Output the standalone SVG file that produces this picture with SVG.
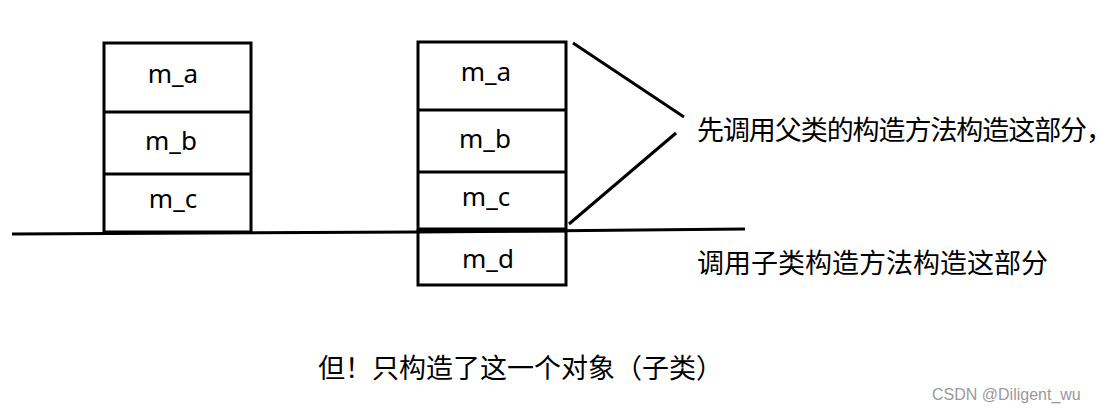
<svg xmlns="http://www.w3.org/2000/svg" width="1118" height="419" viewBox="0 0 1118 419">
<style>
.box{fill:none;stroke:#000;stroke-width:3}
.ln{fill:none;stroke:#000;stroke-width:3}
.lbl{font-family:"Noto Sans","DejaVu Sans",sans-serif;font-size:26px;fill:#000;text-anchor:middle}
.cn{font-family:"Noto Sans CJK SC","Noto Sans",sans-serif;font-size:27px;fill:#000}
.wm{font-family:"Liberation Sans",Arial,sans-serif;font-size:16px;fill:#9a9a9a}
</style>
<rect width="1118" height="419" fill="#fff"/>
<g id="left-stack">
  <rect class="box" x="104" y="43" width="147" height="189"/>
  <line class="ln" x1="104" y1="112" x2="251" y2="112"/>
  <line class="ln" x1="104" y1="174" x2="251" y2="174"/>
  <text class="lbl" x="173" y="83">m_a</text>
  <text class="lbl" x="171" y="150">m_b</text>
  <text class="lbl" x="173" y="208">m_c</text>
</g>
<g id="right-stack">
  <rect class="box" x="418" y="42" width="148" height="187"/>
  <line class="ln" x1="418" y1="110" x2="566" y2="110"/>
  <line class="ln" x1="418" y1="172" x2="566" y2="172"/>
  <rect class="box" x="418" y="231" width="148" height="54"/>
  <text class="lbl" x="486" y="81">m_a</text>
  <text class="lbl" x="485" y="148">m_b</text>
  <text class="lbl" x="486" y="206">m_c</text>
  <text class="lbl" x="488" y="268">m_d</text>
</g>
<g id="connectors">
  <polyline class="ln" points="12,234 418,232 745,229"/>
  <line class="ln" x1="573" y1="43" x2="684" y2="117"/>
  <line class="ln" x1="569" y1="224" x2="676" y2="133"/>
</g>
<g id="labels">
  <text class="cn" x="697" y="140" textLength="416" lengthAdjust="spacing">先调用父类的构造方法构造这部分，</text>
  <text class="cn" x="697" y="273">调用子类构造方法构造这部分</text>
  <text class="cn" x="318" y="378">但！只构造了这一个对象（子类）</text>
  <text class="wm" x="932" y="400">CSDN @Diligent_wu</text>
</g>
</svg>
